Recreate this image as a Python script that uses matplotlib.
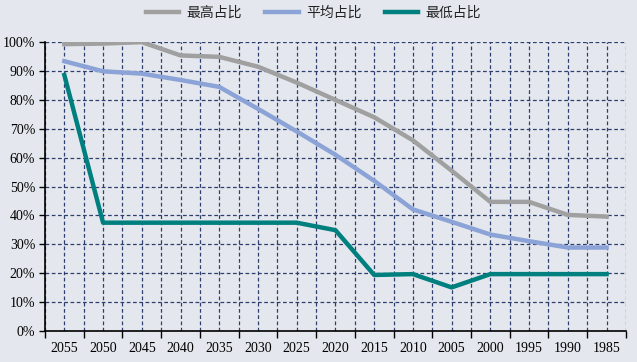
import matplotlib.pyplot as plt
from matplotlib.ticker import FixedLocator, PercentFormatter

# 数据
years = ["2055", "2050", "2045", "2040", "2035", "2030", "2025", "2020",
         "2015", "2010", "2005", "2000", "1995", "1990", "1985"]
max_share = [99.3, 99.5, 100.0, 95.4, 94.9, 91.5, 86.0, 80.0,
             74.0, 66.0, 55.5, 44.7, 44.7, 40.2, 39.6]
avg_share = [93.4, 89.9, 89.1, 86.9, 84.5, 76.9, 69.1, 61.0,
             52.0, 42.1, 37.8, 33.4, 31.1, 28.9, 28.9]
min_share = [88.6, 37.5, 37.5, 37.5, 37.5, 37.5, 37.5, 34.9,
             19.4, 19.7, 15.1, 19.7, 19.7, 19.7, 19.7]

bg = "#E4E8EE"
tick_font = {"family": "Liberation Serif", "size": 10}

fig = plt.figure(figsize=(6.37, 3.62), dpi=100, facecolor=bg)
ax = fig.add_axes([0.0706, 0.0856, 0.912, 0.798], facecolor=bg)

x = list(range(len(years)))
ax.plot(x, max_share, color="#A0A0A0", lw=3.2, label="最高占比")
ax.plot(x, avg_share, color="#8BA3D6", lw=3.2, label="平均占比")
ax.plot(x, min_share, color="#007F7F", lw=3.2, label="最低占比")

ax.set_xlim(-0.5, len(years) - 0.5)
ax.set_ylim(0, 100)

# 刻度
ax.xaxis.set_major_locator(FixedLocator([i - 0.5 for i in range(len(years) + 1)]))
ax.xaxis.set_minor_locator(FixedLocator(x))
ax.set_xticklabels([])
ax.set_xticklabels(years, minor=True, fontdict=tick_font)
ax.tick_params(axis="x", which="major", direction="out", length=5, width=1, color="black")
ax.tick_params(axis="x", which="minor", length=0, pad=8)
ax.set_yticks(range(0, 101, 10))
ax.yaxis.set_major_formatter(PercentFormatter(decimals=0))
for lab in ax.get_yticklabels():
    lab.set_fontproperties(tick_font)
ax.tick_params(axis="y", direction="out", length=4, width=1, pad=3)

# 网格
ax.grid(True, which="both", axis="x", color="#2E3E6E", ls=(0, (3, 2)), lw=0.9)
ax.grid(True, which="major", axis="y", color="#2E3E6E", ls=(0, (3, 2)), lw=0.9)
ax.set_axisbelow(True)

for s in ["top", "right"]:
    ax.spines[s].set_visible(False)
ax.spines["left"].set_linewidth(1.2)
ax.spines["bottom"].set_linewidth(1.2)

# 图例
fig.legend(loc="center", bbox_to_anchor=(0.492, 0.965), ncol=3, frameon=False,
           prop={"family": ["Noto Sans CJK SC", "DejaVu Sans"], "size": 10},
           handlelength=2.4, columnspacing=1.65, handletextpad=0.55, labelcolor="#222222")

fig.savefig("out.png", dpi=100, facecolor=bg)
